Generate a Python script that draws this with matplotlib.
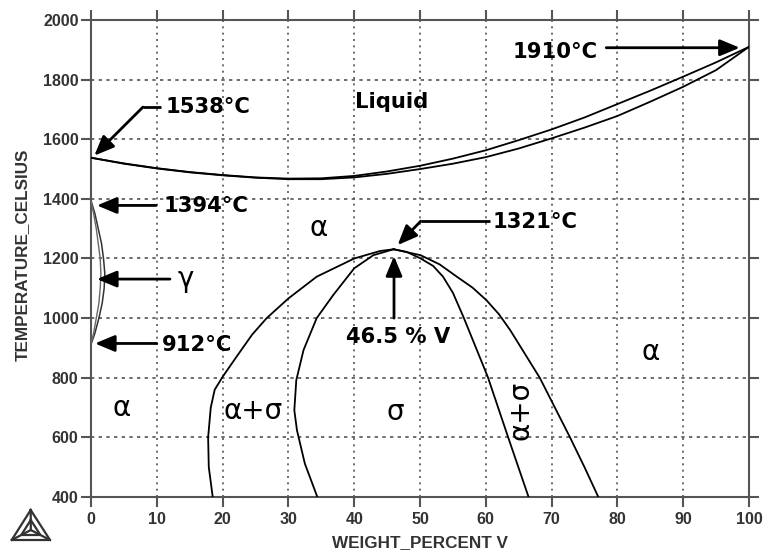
import matplotlib
matplotlib.use("Agg")
import matplotlib.pyplot as plt
from matplotlib.lines import Line2D

# ── Data ───────────────────────────────────────────────────────────
# liquidus / solidus
liq_x = [0, 5, 10, 15, 20, 25, 30, 35, 40, 45, 50, 55, 60, 65, 70, 75, 80, 85, 90, 95, 100]
liquidus_T = [1538, 1519, 1503, 1490, 1480, 1472, 1468, 1469, 1477, 1492, 1511, 1535,
              1563, 1597, 1633, 1673, 1718, 1763, 1810, 1858, 1910]
solidus_T = [1538, 1518, 1502, 1489, 1479, 1471, 1466, 1466, 1472, 1484, 1500, 1518,
             1540, 1569, 1603, 1639, 1678, 1726, 1776, 1832, 1910]

# gamma loop
gamma_T = [1394, 1350, 1300, 1250, 1200, 1150, 1100, 1050, 1000, 950, 912]
gamma_outer_x = [0, 0.6, 1.1, 1.6, 1.9, 2.1, 2.0, 1.7, 1.2, 0.6, 0]
gamma_inner_x = [0, 0.4, 0.8, 1.1, 1.4, 1.5, 1.4, 1.2, 0.8, 0.4, 0]

# sigma region boundaries
sig_left_outer_x = [18.5, 17.9, 17.8, 18.2, 18.8, 20.0, 22.1, 24.5, 26.7, 30.0, 34.3,
                    40.0, 43.9, 46.0]
sig_left_outer_T = [400, 500, 600, 700, 760, 803, 870, 945, 1000, 1066, 1139,
                    1200, 1225, 1231]
sig_left_inner_x = [34.4, 32.5, 31.3, 30.9, 31.2, 32.3, 34.3, 36.8, 40.0, 42.9, 46.0]
sig_left_inner_T = [400, 512, 624, 691, 792, 893, 1000, 1077, 1167, 1211, 1231]
sig_right_inner_x = [46.0, 48.0, 50.1, 52.0, 53.5, 55.0, 56.6, 60.3, 63.4, 66.5]
sig_right_inner_T = [1231, 1222, 1200, 1175, 1139, 1085, 1004, 803, 600, 400]
sig_right_outer_x = [46.0, 50.1, 53.0, 55.6, 58.0, 60.1, 62.0, 63.7, 68.2, 70.5, 72.8, 75.0, 77.1]
sig_right_outer_T = [1231, 1211, 1180, 1139, 1102, 1060, 1013, 960, 800, 700, 600, 500, 400]

x_ticks = list(range(0, 101, 10))
y_ticks = list(range(400, 2001, 200))

# annotations: (text, text_xy, arrow_from, arrow_to, bend)
callouts = [
    ("1538\u00b0C", (11.3, 1708), (7.9, 1708), (0.5, 1545), (10.6, 1708)),
    ("1394\u00b0C", (11.1, 1375), (9.9, 1378), (0.9, 1378), None),
    ("912\u00b0C", (10.7, 911), (10.0, 915), (0.6, 915), None),
    ("1910\u00b0C", (64.0, 1894), (78.3, 1907), (98.6, 1907), None),
    ("1321\u00b0C", (61.1, 1323), (50.1, 1325), (46.6, 1245), (60.6, 1325)),
]

phase_labels = [
    ("\u03b1", 34.6, 1302, 0),
    ("\u03b1", 4.7, 698, 0),
    ("\u03b1", 85.1, 886, 0),
    ("\u03b1+\u03c3", 24.6, 688, 0),
    ("\u03c3", 46.2, 684, 0),
    ("\u03b1+\u03c3", 65.3, 691, 90),
]

W, H = 764, 555
fig = plt.figure(figsize=(W / 100, H / 100), dpi=100)
ax = fig.add_axes([91 / W, 1 - 497 / H, (749 - 91) / W, (497 - 20) / H])

ax.set_xlim(0, 100)
ax.set_ylim(400, 2000)
ax.set_xticks(x_ticks)
ax.set_yticks(y_ticks)

for spine in ax.spines.values():
    spine.set_edgecolor("#555")
    spine.set_linewidth(1.5)
ax.tick_params(direction="out", length=7, width=1.5, color="#555",
               top=True, right=True, labelsize=11.5, labelcolor="#333")
ax.tick_params(axis="x", pad=4)
ax.tick_params(axis="y", pad=2)
for lbl in ax.get_xticklabels() + ax.get_yticklabels():
    lbl.set_fontfamily("Liberation Sans")
    lbl.set_fontweight("bold")

ax.xaxis.grid(True, color="#555", linestyle=(0, (1.2, 2.6)), linewidth=1.2)
ax.yaxis.grid(True, color="#555", linestyle=(0, (2.0, 2.6)), linewidth=1.2)
ax.set_axisbelow(True)

line_kw = dict(color="black", linewidth=1.3, zorder=3)
ax.plot(liq_x, liquidus_T, **line_kw)
ax.plot(liq_x, solidus_T, **line_kw)
ax.plot(gamma_outer_x, gamma_T, color="#333", linewidth=1.1, zorder=3)
ax.plot(gamma_inner_x, gamma_T, color="#666", linewidth=1.0, zorder=3)
ax.plot(sig_left_outer_x, sig_left_outer_T, **line_kw)
ax.plot(sig_left_inner_x, sig_left_inner_T, **line_kw)
ax.plot(sig_right_inner_x, sig_right_inner_T, **line_kw)
ax.plot(sig_right_outer_x, sig_right_outer_T, **line_kw)

arrow_kw = dict(arrowstyle="-|>,head_length=0.6,head_width=0.25", lw=2,
                color="black", shrinkA=0, shrinkB=0, mutation_scale=20)
ann_font = dict(fontsize=15.2, fontweight="bold", family="DejaVu Sans",
                color="black", va="center", ha="left")

for text, txy, a_from, a_to, bend in callouts:
    ax.text(txy[0], txy[1], text, **ann_font, zorder=5)
    if bend is not None:
        ax.plot([bend[0], a_from[0]], [bend[1], a_from[1]], color="black",
                lw=2, solid_capstyle="butt", zorder=4)
    ax.annotate("", xy=a_to, xytext=a_from, arrowprops=arrow_kw, zorder=4)

# gamma label + arrow
ax.text(13.2, 1131, "\u03b3", fontsize=20, family="DejaVu Sans",
        va="center", ha="left", zorder=5)
ax.annotate("", xy=(0.9, 1131), xytext=(12.0, 1131), arrowprops=arrow_kw, zorder=4)

# 46.5 % V
ax.text(46.6, 936, "46.5 % V", fontsize=15.2, fontweight="bold",
        family="DejaVu Sans", ha="center", va="center", zorder=5)
ax.annotate("", xy=(46.05, 1208), xytext=(46.05, 1000), arrowprops=arrow_kw, zorder=4)

ax.text(45.7, 1726, "Liquid", fontsize=15.2, fontweight="bold",
        family="DejaVu Sans", ha="center", va="center", zorder=5)

for text, x, y, rot in phase_labels:
    ax.text(x, y, text, fontsize=20, family="DejaVu Sans", rotation=rot,
            ha="center", va="center", zorder=5)

fig.text(22 / W, 1 - 255 / H, "TEMPERATURE_CELSIUS", rotation=90,
         ha="center", va="center", fontsize=12.3, fontweight="bold",
         family="Liberation Sans", color="#333")
fig.text(420 / W, 1 - 543 / H, "WEIGHT_PERCENT V", ha="center", va="center",
         fontsize=12.3, fontweight="bold", family="Liberation Sans", color="#333")

# small triangle logo, bottom-left
def fp(px, py):
    return px / W, 1 - py / H

top, bl, br = (30.7, 510), (11.7, 540), (50.0, 540)
cx = (top[0] + bl[0] + br[0]) / 3
cy = (top[1] + bl[1] + br[1]) / 3
logo_kw = dict(color="#333", linewidth=1.6, transform=fig.transFigure)
tri = [top, bl, br, top]
fig.add_artist(Line2D([fp(*p)[0] for p in tri], [fp(*p)[1] for p in tri], **logo_kw))
inner = [((p[0] + cx) / 2, (p[1] + cy) / 2) for p in (top, bl, br)]
inner.append(inner[0])
fig.add_artist(Line2D([fp(*p)[0] for p in inner], [fp(*p)[1] for p in inner], **logo_kw))
for p in (top, bl, br):
    a, b = fp(*p), fp(cx, cy)
    fig.add_artist(Line2D([a[0], b[0]], [a[1], b[1]], **logo_kw))

fig.savefig("out.png", dpi=100)
